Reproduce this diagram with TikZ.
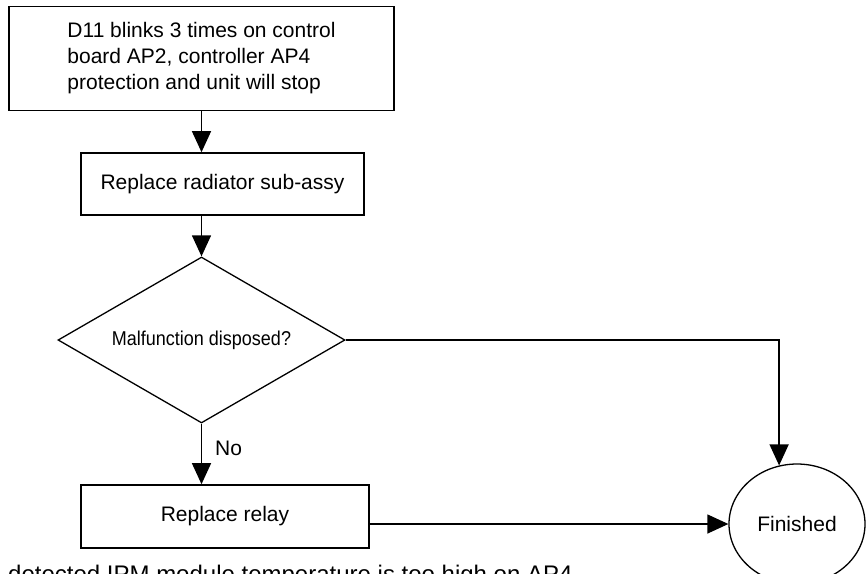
\documentclass[tikz,border=0pt]{standalone}
\usepackage{fontspec}
\setmainfont{Liberation Sans}
\newfontfamily\narrowfont[FakeStretch=0.9]{Liberation Sans}
\usetikzlibrary{shapes.geometric,arrows.meta,calc}
\begin{document}
\begin{tikzpicture}[x=1pt,y=-1pt,
  every node/.style={font=\fontsize{21pt}{26pt}\selectfont},
  box/.style={draw, line width=1.6pt, inner sep=0pt},
  conn/.style={line width=1.3pt, -{Triangle[length=21pt,width=19pt]}}]
\useasboundingbox (0,0) rectangle (866,573);
\clip (0,0) rectangle (866,573);
\fill[white] (0,0) rectangle (866,573);
\node[box, minimum width=385pt, minimum height=104pt, align=left] (start) at (201.5,58.5)
  {D11 blinks 3 times on control\\board AP2, controller AP4\\protection and unit will stop};
\node[box, minimum width=283pt, minimum height=62pt] (rad) at (222.5,184) {Replace radiator sub-assy};
\node[draw, line width=1.3pt, shape=diamond, minimum width=287pt, minimum height=166pt,
  inner sep=0pt, aspect=1.73, font=\narrowfont\fontsize{20pt}{24pt}\selectfont] (dia) at (201.5,340)
  {Malfunction disposed?};
\node[box, minimum width=288pt, minimum height=63pt] (relay) at (225,516.5) {Replace relay};
\node[draw, line width=1.3pt, ellipse, minimum width=136pt, minimum height=120pt, inner sep=0pt]
  (fin) at (797,524) {Finished};
\node[anchor=base west, inner sep=0pt, font=\fontsize{24pt}{28pt}\selectfont] (cut) at (8,582)
  {detected IPM module temperature is too high on AP4};
\draw[conn] (start.south) -- (start.south |- rad.north);
\draw[conn] (dia.north |- rad.south) -- (dia.north);
\draw[conn] (dia.east) -| (fin.107);
\draw[conn] (dia.south) -- node[pos=0.4, anchor=west, inner sep=0pt, xshift=13pt] (no) {No} (dia.south |- relay.north);
\draw[conn] (relay.east |- fin.west) -- (fin.west);
\end{tikzpicture}
\end{document}
